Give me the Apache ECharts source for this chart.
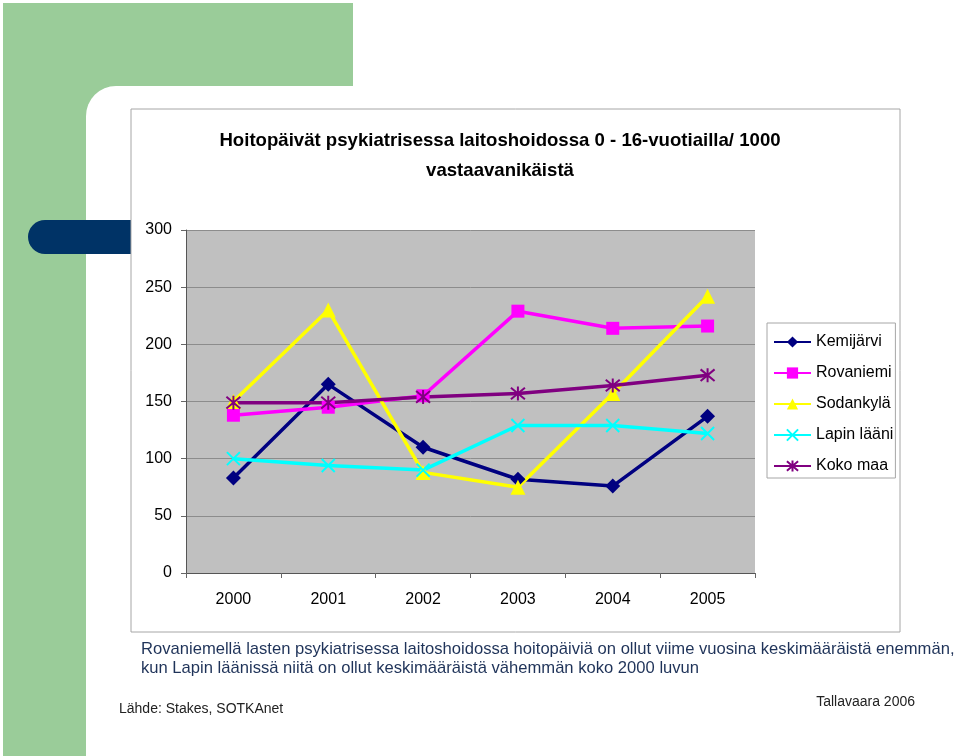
<!DOCTYPE html>
<html>
<head>
<meta charset="utf-8">
<script src="https://cdn.jsdelivr.net/npm/echarts@6/dist/echarts.min.js"></script>
<style>
html,body{margin:0;padding:0;background:#fff;}
#chart{width:960px;height:756px;}
</style>
</head>
<body>
<div id="chart"></div>
<script>
var years = ['2000', '2001', '2002', '2003', '2004', '2005'];
var kemijarvi = [83, 165, 110, 82, 76, 137];
var rovaniemi = [138, 145, 155, 229, 214, 216];
var sodankyla = [150, 230, 88, 75, 157, 242];
var lapinLaani = [100, 94, 90, 129, 129, 122];
var kokoMaa = [149, 149, 154, 157, 164, 173];
var seriesNames = ['Kemijärvi', 'Rovaniemi', 'Sodankylä', 'Lapin lääni', 'Koko maa'];
var titleLines = ['Hoitopäivät psykiatrisessa laitoshoidossa 0 - 16-vuotiailla/ 1000', 'vastaavanikäistä'];
var noteLines = ['Rovaniemellä lasten psykiatrisessa laitoshoidossa hoitopäiviä on ollut viime vuosina keskimääräistä enemmän,', 'kun Lapin läänissä niitä on ollut keskimääräistä vähemmän koko 2000 luvun'];
var sourceText = 'Lähde: Stakes, SOTKAnet';
var authorText = 'Tallavaara 2006';

var FONT = '"Liberation Sans", Arial, sans-serif';
var xPath = 'path://M0 0 L10 10 M10 0 L0 10';
var starPath = 'path://M0 0 L10 10 M10 0 L0 10 M5 -1 L5 11';

var chart = echarts.init(document.getElementById('chart'), null, {renderer: 'canvas'});

function mk(name, data, color, symbol, size, stroke) {
  return {
    name: name, type: 'line', data: data,
    symbol: symbol, symbolSize: size,
    lineStyle: {color: color, width: 3.5},
    itemStyle: stroke ? {color: color, borderColor: color, borderWidth: 2} : {color: color},
    z: 5
  };
}

var option = {
  animation: false,
  backgroundColor: '#ffffff',
  graphic: [
    {type: 'rect', z: -20, shape: {x: 3, y: 3, width: 350, height: 115}, style: {fill: '#9ACC99'}},
    {type: 'rect', z: -20, shape: {x: 3, y: 3, width: 115, height: 753}, style: {fill: '#9ACC99'}},
    {type: 'rect', z: -19, shape: {x: 86, y: 86, width: 874, height: 670, r: [30, 0, 0, 0]}, style: {fill: '#ffffff'}},
    {type: 'rect', z: -18, shape: {x: 28, y: 220, width: 120, height: 34, r: [17, 0, 0, 17]}, style: {fill: '#003366'}},
    {type: 'rect', z: -17, shape: {x: 131, y: 109, width: 769, height: 523}, style: {fill: '#ffffff', stroke: '#a6a6a6', lineWidth: 1}},
    {type: 'text', z: 10, style: {text: titleLines[0], x: 500, y: 141, align: 'center', verticalAlign: 'middle', font: 'bold 18.6px ' + FONT, fill: '#000'}},
    {type: 'text', z: 10, style: {text: titleLines[1], x: 500, y: 171, align: 'center', verticalAlign: 'middle', font: 'bold 18.6px ' + FONT, fill: '#000'}},
    {type: 'text', z: 10, style: {text: noteLines[0], x: 141, y: 649, align: 'left', verticalAlign: 'middle', font: '16.6px ' + FONT, fill: '#1f3359'}},
    {type: 'text', z: 10, style: {text: noteLines[1], x: 141, y: 668, align: 'left', verticalAlign: 'middle', font: '16.6px ' + FONT, fill: '#1f3359'}},
    {type: 'text', z: 10, style: {text: sourceText, x: 119, y: 709, align: 'left', verticalAlign: 'middle', font: '14px ' + FONT, fill: '#222'}},
    {type: 'text', z: 10, style: {text: authorText, x: 915, y: 702, align: 'right', verticalAlign: 'middle', font: '14px ' + FONT, fill: '#222'}}
  ],
  grid: {left: 186, top: 230, width: 569, height: 343, show: true, backgroundColor: '#C0C0C0', borderWidth: 0, containLabel: false},
  legend: {
    orient: 'vertical', left: 767, top: 323,
    padding: [11, 2, 4, 6],
    itemWidth: 37, itemHeight: 14, itemGap: 15,
    backgroundColor: '#ffffff', borderColor: '#a6a6a6', borderWidth: 1,
    textStyle: {fontFamily: FONT, fontSize: 16, color: '#000', lineHeight: 15},
    data: seriesNames
  },
  xAxis: {
    type: 'category', data: years, boundaryGap: true,
    axisLine: {lineStyle: {color: '#555', width: 1}},
    axisTick: {show: true, length: 5, lineStyle: {color: '#666'}},
    axisLabel: {fontFamily: FONT, fontSize: 16, color: '#000', margin: 19},
    splitLine: {show: false}
  },
  yAxis: {
    type: 'value', min: 0, max: 300, interval: 50,
    axisLine: {show: true, lineStyle: {color: '#555', width: 1}},
    axisTick: {show: true, length: 5, lineStyle: {color: '#666'}},
    axisLabel: {fontFamily: FONT, fontSize: 16, color: '#000', margin: 14},
    splitLine: {show: true, lineStyle: {color: '#8c8c8c', width: 1}}
  },
  series: [
    mk(seriesNames[0], kemijarvi, '#000080', 'diamond', 15, false),
    mk(seriesNames[1], rovaniemi, '#FF00FF', 'rect', 13, false),
    mk(seriesNames[2], sodankyla, '#FFFF00', 'triangle', 15, false),
    mk(seriesNames[3], lapinLaani, '#00FFFF', xPath, 13, true),
    mk(seriesNames[4], kokoMaa, '#800080', starPath, 14, true)
  ]
};
chart.setOption(option);
</script>
</body>
</html>
